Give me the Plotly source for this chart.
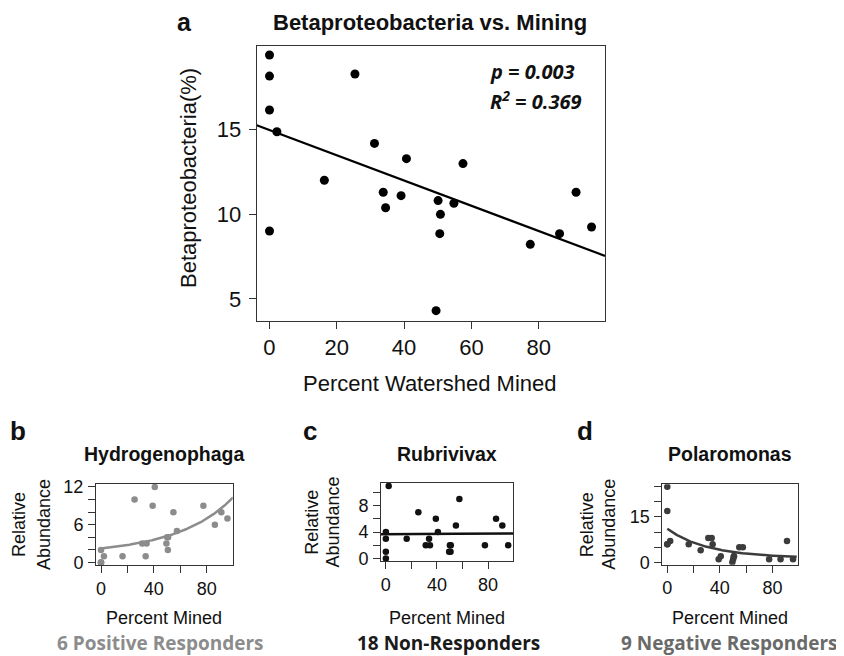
import numpy as np
import plotly.graph_objects as go

# ---------------- data ----------------
pct_mined = [0, 0, 0, 0, 2.2, 16.3, 25.4, 31.2, 33.8, 34.5, 39.1, 40.7,
             50.1, 50.8, 50.6, 49.5, 54.8, 57.5, 77.5, 86.2, 91.1, 95.7]
beta_pct = [19.38, 18.14, 16.14, 9.01, 14.86, 12.0, 18.26, 14.17, 11.29, 10.38, 11.09, 13.27,
            10.80, 9.99, 8.85, 4.31, 10.64, 12.98, 8.22, 8.85, 11.29, 9.24]
hydrogenophaga = [2, 0, 0, 0, 1, 1, 10, 3, 1, 3, 9, 12, 4, 4, 2, 3, 8, 5, 9, 6, 8, 7]
rubrivivax = [4, 3, 1, 0, 11, 3, 7, 2, 3, 2, 6, 4, 2, 2, 1, 1, 5, 9, 2, 6, 5, 2]
polaromonas = [25, 17, 6, 6, 7, 6, 4, 8, 8, 6, 1, 2, 1, 2, 2, 0, 5, 5, 1, 1, 7, 1]

# fitted log-link curve coefficients (log y = c0 + c1*x + c2*x^2)
hydro_fit = [0.798, 0.00991, 5.47e-5]
rubri_fit = [1.303, 0.00027, 0.0]
polaro_fit = [2.407, -0.0290, 1.07e-4]

main_title = "Betaproteobacteria vs. Mining"
panel_titles = ["Hydrogenophaga", "Rubrivivax", "Polaromonas"]
responder_labels = ["6 Positive Responders", "18 Non-Responders", "9 Negative Responders"]

W, H = 844, 656
OFF = 8  # default page body margin in the browser

def fx(p):
    return (p - OFF) / W
def fy(p):
    return 1 - (p - OFF) / H

AX = "#333333"
TXT = "#111111"
FONT = "Liberation Sans, Arial, sans-serif"

fig = go.Figure()

x = np.array(pct_mined, dtype=float)

# ---- main panel ----
fig.add_trace(go.Scatter(x=pct_mined, y=beta_pct, mode="markers",
                         marker=dict(color="black", size=9), xaxis="x", yaxis="y",
                         showlegend=False))
slope, intercept = np.polyfit(x, np.array(beta_pct), 1)
lx = np.array([-3.8, 99.7])
fig.add_trace(go.Scatter(x=lx, y=intercept + slope * lx, mode="lines",
                         line=dict(color="black", width=2.2), xaxis="x", yaxis="y",
                         showlegend=False))

def curve(c, x0, x1):
    xs = np.linspace(x0, x1, 200)
    return xs, np.exp(c[0] + c[1] * xs + c[2] * xs ** 2)

panels = [
    (hydrogenophaga, hydro_fit, "#8c8c8c", "#8c8c8c", "2", (0, 100)),
    (rubrivivax, rubri_fit, "#111111", "#111111", "3", (-3.8, 99.7)),
    (polaromonas, polaro_fit, "#3c3c3c", "#3c3c3c", "4", (0, 98.5)),
]
for yv, cf, mc, lc, k, (a0, a1) in panels:
    fig.add_trace(go.Scatter(x=pct_mined, y=yv, mode="markers",
                             marker=dict(color=mc, size=6.5), xaxis="x" + k, yaxis="y" + k,
                             showlegend=False))
    cx, cy = curve(cf, a0, a1)
    fig.add_trace(go.Scatter(x=cx, y=cy, mode="lines", line=dict(color=lc, width=2.5),
                             xaxis="x" + k, yaxis="y" + k, showlegend=False))

def axstyle(size, **kw):
    d = dict(showline=True, mirror=True, linecolor=AX, linewidth=1, ticks="outside",
             ticklen=7, tickcolor=AX, tickwidth=1, showgrid=False, zeroline=False,
             automargin=False,
             tickfont=dict(family=FONT, size=size, color=TXT), fixedrange=True)
    d.update(kw)
    return d

layout = dict(
    template="none",
    width=W, height=H, margin=dict(l=0, r=0, t=0, b=0, pad=0, autoexpand=False),
    paper_bgcolor="white", plot_bgcolor="white", showlegend=False,
    xaxis=axstyle(22, domain=[fx(256.7), fx(605)], range=[-3.8, 99.7],
                  tickvals=[0, 20, 40, 60, 80], anchor="y"),
    yaxis=axstyle(22, domain=[fy(320.7), fy(45.7)], range=[3.72, 19.93],
                  tickvals=[5, 10, 15], anchor="x", ticklabelstandoff=3),
)

sub_dom = {
    "2": ([96, 232.7], [565.3, 484], [-0.45, 12.47], list(range(0, 13, 2)), [0, 6, 12]),
    "3": ([381, 513.3], [561.3, 483], [-0.44, 11.44], list(range(0, 11, 2)), [0, 4, 8]),
    "4": ([662.3, 798.3], [564.7, 484.3], [-0.8, 25.8], list(range(0, 26, 5)), [0, 15]),
}
for k, (xd, yd, yr, yt, yl) in sub_dom.items():
    layout["xaxis" + k] = axstyle(18, domain=[fx(xd[0]), fx(xd[1])], range=[-3.8, 99.7],
                                  tickvals=[0, 20, 40, 60, 80],
                                  ticktext=["0", " ", "40", " ", "80"], anchor="y" + k)
    layout["yaxis" + k] = axstyle(18, domain=[fy(yd[0]), fy(yd[1])], range=yr,
                                  tickvals=yt,
                                  ticktext=[str(v) if v in yl else " " for v in yt],
                                  anchor="x" + k, ticklabelstandoff=1)
fig.update_layout(**layout)

ann = []
def A(text, x, y, size, color=TXT, angle=0, family=FONT, xanchor="center",
      yanchor="middle"):
    ann.append(dict(text=text, x=fx(x), y=fy(y), xref="paper", yref="paper",
                    showarrow=False, textangle=angle, xanchor=xanchor, yanchor=yanchor,
                    font=dict(family=family, size=size, color=color)))

# main panel texts
A("<b>a</b>", 184, 22, 25)
A("<b>" + main_title + "</b>", 430, 23, 22)
A("Betaproteobacteria(%)", 188, 178, 22, angle=-90)
A("Percent Watershed Mined", 430, 384, 22)
A("<b><i>p = 0.003</i></b>", 488, 72, 20, family="Open Sans, sans-serif", xanchor="left")
A("<b><i>R<sup>2</sup> = 0.369</i></b>", 488, 101, 20, family="Open Sans, sans-serif",
  xanchor="left")

# small panels
letters = ["b", "c", "d"]
letter_x = [17.5, 310, 585]
ylab_x = [(18.3, 43.3), (311.7, 333.3), (586.7, 608.3)]
resp_colors = ["#8c8c8c", "#1a1a1a", "#6a6a6a"]
resp_x = [160.8, 448.3, 729]
xlab_y = 618
for i, k in enumerate(["2", "3", "4"]):
    xd = sub_dom[k][0]
    yd = sub_dom[k][1]
    cx = (xd[0] + xd[1]) / 2
    cy = (yd[0] + yd[1]) / 2
    A("<b>" + letters[i] + "</b>", letter_x[i], 431, 26)
    A("<b>" + panel_titles[i] + "</b>", cx, 454, 19.5)
    A("Relative", ylab_x[i][0], cy, 18, angle=-90)
    A("Abundance", ylab_x[i][1], cy, 18, angle=-90)
    A("Percent Mined", cx, xlab_y, 18)
    A("<b>" + responder_labels[i] + "</b>", resp_x[i], 642.5, 19,
      color=resp_colors[i], family="Open Sans, sans-serif")

fig.update_layout(annotations=ann)
fig.write_html("out.html")
